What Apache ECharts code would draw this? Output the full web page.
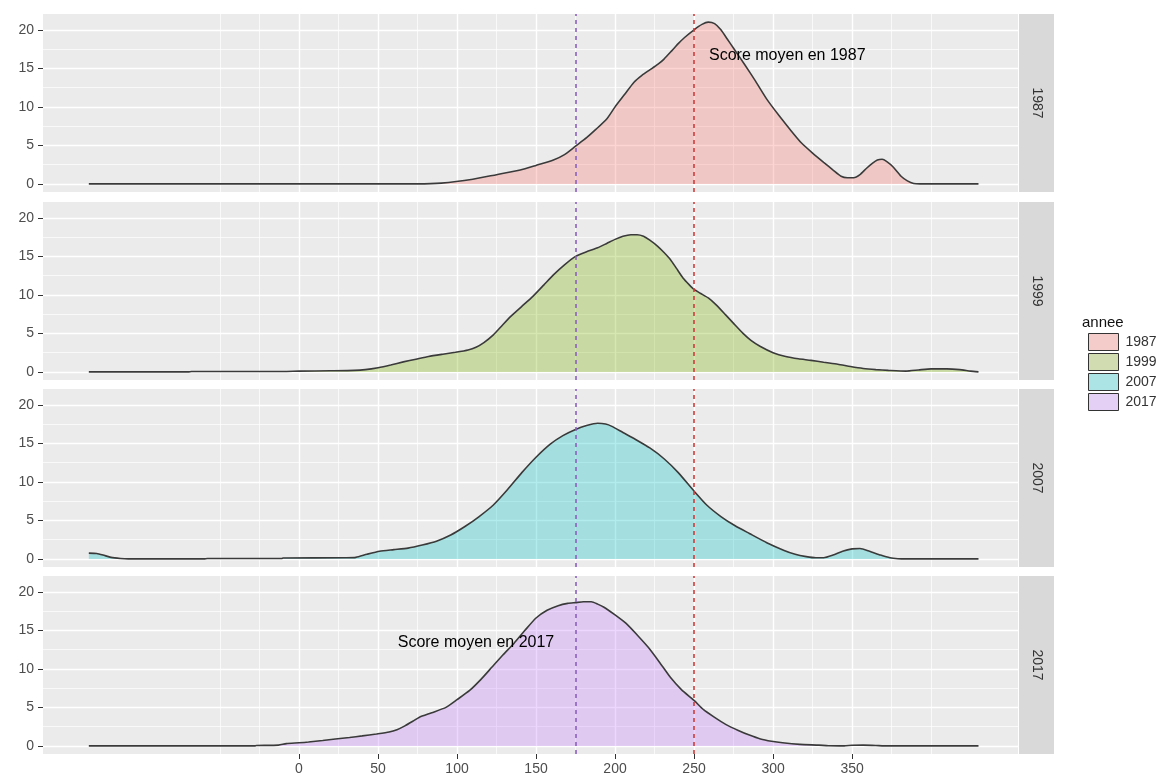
<!DOCTYPE html>
<html>
<head>
<meta charset="utf-8">
<script src="https://cdn.jsdelivr.net/npm/echarts@6/dist/echarts.min.js"></script>
<style>html,body{margin:0;padding:0;background:#fff;}#c{width:1167px;height:776px;}</style>
</head>
<body>
<div id="c"></div>
<script>
// ---- data ----
const years = ['1987', '1999', '2007', '2017'];

const x1987 = [-133, 75, 90, 110, 125, 140, 150, 161, 168, 175, 182, 188, 195, 200, 206, 212, 217, 222, 227, 231, 236, 240, 244, 250, 255, 259, 263, 267, 271, 275, 282, 289, 296, 304, 311, 318, 325, 332, 338, 343, 347, 351, 355, 359, 363, 366, 369, 372, 376, 381, 385, 389, 393, 430];
const d1987 = [0, 0, 0.1, 0.6, 1.2, 1.8, 2.4, 3.1, 3.8, 4.9, 6.0, 7.1, 8.5, 10.0, 11.6, 13.2, 14.1, 14.8, 15.5, 16.2, 17.3, 18.2, 19.0, 20.0, 20.7, 21.0, 20.8, 20.0, 18.8, 17.6, 15.5, 13.3, 11.0, 8.8, 7.0, 5.3, 4.0, 2.8, 1.8, 1.0, 0.8, 0.8, 1.2, 2.0, 2.7, 3.1, 3.2, 2.9, 2.2, 1.0, 0.4, 0.05, 0, 0];

const x1999 = [-133, -70, -68, -10, 0, 20, 35, 42, 50, 58, 66, 74, 82, 91, 99, 107, 112, 117, 123, 128, 134, 141, 148, 155, 161, 168, 175, 182, 189, 195, 200, 205, 210, 214, 218, 222, 227, 231, 235, 239, 243, 247, 250, 254, 259, 264, 270, 275, 281, 286, 292, 300, 308, 316, 324, 332, 341, 349, 357, 365, 373, 384, 392, 400, 410, 418, 425, 430];
const d1999 = [0, 0, 0.05, 0.05, 0.1, 0.15, 0.2, 0.3, 0.55, 0.9, 1.3, 1.65, 2.0, 2.3, 2.55, 2.85, 3.2, 3.8, 4.8, 5.9, 7.2, 8.5, 9.8, 11.3, 12.6, 13.9, 15.0, 15.6, 16.1, 16.7, 17.2, 17.6, 17.8, 17.8, 17.6, 17.1, 16.3, 15.5, 14.6, 13.4, 12.2, 11.3, 10.7, 10.2, 9.6, 8.7, 7.4, 6.3, 5.0, 4.1, 3.3, 2.5, 2.0, 1.7, 1.5, 1.25, 1.0, 0.7, 0.45, 0.3, 0.2, 0.1, 0.25, 0.4, 0.4, 0.3, 0.1, 0];

const x2007 = [-133, -128, -124, -119, -113, -108, -60, -58, -11, -10, 30, 36, 43, 51, 60, 69, 78, 87, 96, 105, 114, 123, 132, 141, 150, 159, 167, 175, 182, 189, 194, 198, 205, 213, 222, 231, 240, 250, 258, 267, 276, 285, 296, 307, 314, 321, 327, 332, 338, 344, 350, 355, 361, 368, 374, 379, 384, 430];
const d2007 = [0.75, 0.7, 0.5, 0.2, 0.05, 0, 0, 0.05, 0.05, 0.12, 0.15, 0.2, 0.6, 1.0, 1.2, 1.4, 1.8, 2.3, 3.1, 4.2, 5.5, 7.0, 9.0, 11.2, 13.2, 14.9, 16.0, 16.8, 17.3, 17.6, 17.5, 17.2, 16.4, 15.5, 14.4, 13.0, 11.2, 8.8, 7.0, 5.5, 4.3, 3.3, 2.1, 1.1, 0.6, 0.3, 0.15, 0.15, 0.5, 1.0, 1.3, 1.35, 1.0, 0.5, 0.15, 0.03, 0, 0];

const x2017 = [-133, -28, -27, -13, -8, 0, 6, 15, 23, 32, 40, 49, 57, 62, 67, 72, 76, 84, 93, 100, 108, 115, 122, 129, 136, 143, 150, 157, 164, 170, 175, 180, 185, 189, 193, 200, 207, 214, 221, 228, 235, 242, 250, 256, 263, 270, 278, 285, 292, 299, 306, 317, 329, 335, 345, 350, 357, 365, 370, 430];
const d2017 = [0, 0, 0.05, 0.1, 0.3, 0.4, 0.5, 0.7, 0.9, 1.1, 1.3, 1.55, 1.8, 2.1, 2.6, 3.2, 3.7, 4.3, 5.0, 6.0, 7.2, 8.6, 10.2, 11.8, 13.3, 15.0, 16.6, 17.6, 18.2, 18.5, 18.6, 18.7, 18.7, 18.4, 18.0, 17.0, 15.9, 14.4, 12.8, 10.9, 8.9, 7.3, 5.9, 4.7, 3.7, 2.8, 2.0, 1.4, 0.9, 0.6, 0.4, 0.2, 0.1, 0.02, 0, 0.08, 0.1, 0.06, 0, 0];

const xTicks = [0, 50, 100, 150, 200, 250, 300, 350];
const xMinor = [-50, -25, 25, 75, 125, 175, 225, 275, 325, 375, 400];
const yTicks = [0, 5, 10, 15, 20];
const yMinor = [2.5, 7.5, 12.5, 17.5];
const meanLines = [175, 250];
const noteText = ['Score moyen en 1987', 'Score moyen en 2017'];
const noteX = [309, 112];
const noteY = [16.6, 13.4];

// ---- styling / layout ----
const xs = [x1987, x1999, x2007, x2017];
const ds = [d1987, d1999, d2007, d2017];
const fills = ['#F8766D', '#7CAE00', '#00BFC4', '#C77CFF'];
const keyFills = ['#F4CDCA', '#D1DDB0', '#ACE3E4', '#E5D0F5'];
const meanColors = ['#8a5fbf', '#cc3b3b'];
const FONT = 'Liberation Sans, Arial, sans-serif';
const tops = [14, 202, 389, 576];
const PH = 178, PL = 43, PW = 975;
const XMIN = -162, XMAX = 455, YMIN = -1.05, YMAX = 22.05;

const grids = [], xAxes = [], yAxes = [], series = [], graphics = [];
years.forEach((yr, g) => {
  grids.push({ left: PL, top: tops[g], width: PW, height: PH, show: true,
    backgroundColor: '#EBEBEB', borderWidth: 0 });
  const last = g === years.length - 1;
  xAxes.push({ type: 'value', gridIndex: g, min: XMIN, max: XMAX, position: 'bottom',
    axisLine: { show: false, onZero: false },
    axisTick: { show: last, customValues: xTicks, length: 5, lineStyle: { color: '#333', width: 1 } },
    axisLabel: { show: last, customValues: xTicks, color: '#4d4d4d', fontSize: 14, margin: 8, fontFamily: FONT },
    splitLine: { show: true, lineStyle: { color: '#ffffff', width: 1.4 } } });
  xAxes.push({ type: 'value', gridIndex: g, min: XMIN, max: XMAX, position: 'top',
    axisLine: { show: false, onZero: false },
    axisTick: { show: false, customValues: xMinor },
    axisLabel: { show: false },
    splitLine: { show: true, lineStyle: { color: '#ffffff', width: 0.7 } } });
  yAxes.push({ type: 'value', gridIndex: g, min: YMIN, max: YMAX, position: 'left',
    axisLine: { show: false, onZero: false },
    axisTick: { show: true, customValues: yTicks, length: 5, lineStyle: { color: '#333', width: 1 } },
    axisLabel: { show: true, customValues: yTicks, color: '#4d4d4d', fontSize: 14, margin: 9, fontFamily: FONT },
    splitLine: { show: true, lineStyle: { color: '#ffffff', width: 1.4 } } });
  yAxes.push({ type: 'value', gridIndex: g, min: YMIN, max: YMAX, position: 'right',
    axisLine: { show: false, onZero: false },
    axisTick: { show: false, customValues: yMinor },
    axisLabel: { show: false },
    splitLine: { show: true, lineStyle: { color: '#ffffff', width: 0.7 } } });

  const s = {
    type: 'line', name: yr, xAxisIndex: 2 * g, yAxisIndex: 2 * g,
    data: xs[g].map((x, i) => [x, ds[g][i]]),
    smooth: 0.2, symbol: 'none', silent: true, z: 3,
    lineStyle: { color: '#3a3a3a', width: 1.6 },
    itemStyle: { color: fills[g] },
    areaStyle: { color: fills[g], opacity: 0.3 },
    markLine: {
      silent: true, symbol: ['none', 'none'], label: { show: false }, animation: false,
      lineStyle: { type: [4, 4], width: 1.6 },
      data: meanLines.map((v, i) => ({ xAxis: v, lineStyle: { color: meanColors[i], type: [4, 4], width: 1.6 } }))
    }
  };
  const ni = g === 0 ? 0 : (g === 3 ? 1 : -1);
  if (ni >= 0) {
    s.markPoint = {
      silent: true, animation: false, symbol: 'rect', symbolSize: 1,
      itemStyle: { color: 'rgba(0,0,0,0)' },
      data: [{ coord: [noteX[ni], noteY[ni]],
        label: { show: true, position: 'inside', formatter: noteText[ni], color: '#000',
          fontSize: 16, fontFamily: FONT } }]
    };
  }
  series.push(s);

  graphics.push({ type: 'rect', left: 1019, top: tops[g], shape: { width: 35, height: PH },
    style: { fill: '#D9D9D9' }, silent: true });
  graphics.push({ type: 'text', x: 1036.5, y: tops[g] + PH / 2, rotation: -Math.PI / 2,
    style: { text: yr, fill: '#333', fontSize: 14, fontFamily: FONT, align: 'center', verticalAlign: 'middle' },
    silent: true });
});

graphics.push({ type: 'text', left: 1082, top: 315,
  style: { text: 'annee', fill: '#111', fontSize: 15, fontFamily: FONT }, silent: true });

const chart = echarts.init(document.getElementById('c'), null, { renderer: 'canvas' });
chart.setOption({
  animation: false,
  backgroundColor: '#ffffff',
  grid: grids, xAxis: xAxes, yAxis: yAxes, series: series,
  legend: {
    orient: 'vertical', left: 1088, top: 333, padding: 0, itemGap: 2,
    itemWidth: 30, itemHeight: 17, icon: 'rect', selectedMode: false,
    textStyle: { color: '#333', fontSize: 14, fontFamily: FONT, padding: [0, 0, 0, 2] },
    data: years.map((y, i) => ({ name: y, icon: 'rect',
      itemStyle: { color: keyFills[i], borderColor: '#333', borderWidth: 1 } }))
  },
  graphic: graphics
});
</script>
</body>
</html>
